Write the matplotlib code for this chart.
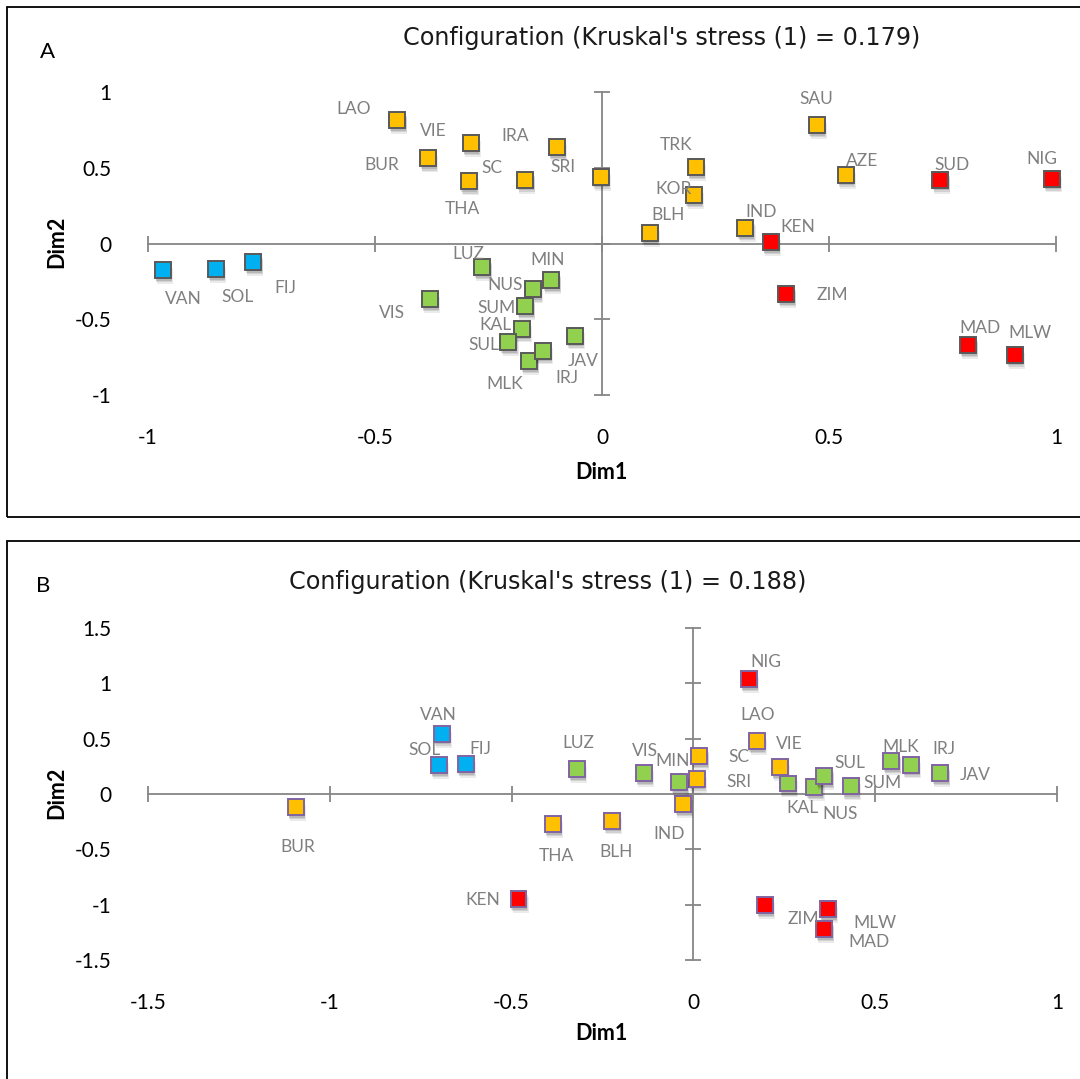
import matplotlib
matplotlib.use('Agg')
import matplotlib.pyplot as plt
import matplotlib.patheffects as pe
from matplotlib.patches import Rectangle

# ---------------- data: panel A ----------------
a_names = ['LAO', 'VIE', 'BUR', 'THA', 'SC', 'IRA', 'SRI', 'TRK', 'KOR', 'BLH', 'IND', 'SAU', 'AZE',
           'KEN', 'SUD', 'NIG', 'ZIM', 'MAD', 'MLW',
           'VAN', 'SOL', 'FIJ',
           'VIS', 'LUZ', 'MIN', 'NUS', 'SUM', 'KAL', 'SUL', 'MLK', 'IRJ', 'JAV']
a_dim1 = [-0.451, -0.289, -0.383, -0.294, -0.169, -0.099, -0.003, 0.207, 0.202, 0.105, 0.316, 0.473, 0.537,
          0.372, 0.745, 0.991, 0.406, 0.807, 0.909,
          -0.967, -0.850, -0.768,
          -0.379, -0.264, -0.112, -0.152, -0.169, -0.177, -0.206, -0.160, -0.130, -0.060]
a_dim2 = [0.814, 0.664, 0.562, 0.410, 0.421, 0.635, 0.441, 0.503, 0.318, 0.068, 0.101, 0.783, 0.454,
          0.009, 0.421, 0.428, -0.333, -0.670, -0.734,
          -0.174, -0.170, -0.121,
          -0.366, -0.154, -0.241, -0.303, -0.411, -0.562, -0.651, -0.774, -0.707, -0.608]
a_group = ['O'] * 13 + ['R'] * 6 + ['B'] * 3 + ['G'] * 10
a_title = "Configuration (Kruskal's stress (1) = 0.179)"
a_xticks = [-1, -0.5, 0, 0.5, 1]
a_xticklabels = ['-1', '-0.5', '0', '0.5', '1']
a_yticks = [-1, -0.5, 0, 0.5, 1]
a_yticklabels = ['-1', '-0.5', '0', '0.5', '1']

# ---------------- data: panel B ----------------
b_names = ['BUR', 'LAO', 'SC', 'SRI', 'VIE', 'IND', 'BLH', 'THA',
           'VAN', 'SOL', 'FIJ',
           'KEN', 'NIG', 'ZIM', 'MLW', 'MAD',
           'MIN', 'VIS', 'LUZ', 'KAL', 'NUS', 'SUL', 'SUM', 'MLK', 'IRJ', 'JAV']
b_dim1 = [-1.093, 0.174, 0.016, 0.009, 0.238, -0.028, -0.224, -0.386,
          -0.692, -0.700, -0.626,
          -0.481, 0.153, 0.197, 0.370, 0.360,
          -0.039, -0.136, -0.320, 0.260, 0.333, 0.360, 0.433, 0.544, 0.598, 0.679]
b_dim2 = [-0.117, 0.480, 0.345, 0.138, 0.246, -0.092, -0.240, -0.271,
          0.545, 0.262, 0.268,
          -0.948, 1.037, -1.003, -1.040, -1.218,
          0.108, 0.188, 0.228, 0.095, 0.062, 0.160, 0.068, 0.298, 0.265, 0.188]
b_group = ['O'] * 8 + ['B'] * 3 + ['R'] * 5 + ['G'] * 10
b_title = "Configuration (Kruskal's stress (1) = 0.188)"
b_xticks = [-1.5, -1, -0.5, 0, 0.5, 1]
b_xticklabels = ['-1.5', '-1', '-0.5', '0', '0.5', '1']
b_yticks = [-1.5, -1, -0.5, 0, 0.5, 1, 1.5]
b_yticklabels = ['-1.5', '-1', '-0.5', '0', '0.5', '1', '1.5']

# ---------------- layout (label offsets in pixels: right, down) ----------------
a_offsets = {
    'LAO': (-44, -11), 'VIE': (-38, -12), 'BUR': (-46, 7), 'THA': (-6, 28), 'SC': (-33, -12),
    'IRA': (-42, -11), 'SRI': (-38, -10), 'TRK': (-20, -22), 'KOR': (-20, -6), 'BLH': (18, -18),
    'IND': (16, -16), 'SAU': (0, -26), 'AZE': (16, -14), 'KEN': (27, -15), 'SUD': (12, -15),
    'NIG': (-10, -20), 'ZIM': (46, 1), 'MAD': (12, -17), 'MLW': (15, -22),
    'VAN': (20, 29), 'SOL': (21, 28), 'FIJ': (32, 26),
    'VIS': (-38, 14), 'LUZ': (-14, -13), 'MIN': (-4, -20), 'NUS': (-28, -4), 'SUM': (-29, 2),
    'KAL': (-26, -4), 'SUL': (-25, 3), 'MLK': (-25, 23), 'IRJ': (24, 27), 'JAV': (8, 25),
}
b_offsets = {
    'BUR': (2, 40), 'VAN': (-3, -19), 'SOL': (-14, -15), 'FIJ': (15, -15), 'KEN': (-36, 1),
    'NIG': (17, -17), 'LAO': (1, -26), 'SC': (40, 1), 'SRI': (42, 3), 'VIE': (9, -23),
    'MIN': (-7, -21), 'VIS': (1, -22), 'LUZ': (1, -26), 'IND': (-14, 30), 'BLH': (4, 31),
    'THA': (3, 32), 'KAL': (15, 25), 'NUS': (26, 27), 'SUL': (26, -13), 'SUM': (32, -3),
    'MLK': (9, -14), 'IRJ': (33, -16), 'JAV': (35, 2), 'ZIM': (38, 14), 'MLW': (47, 14),
    'MAD': (45, 13),
}

colors = {'O': '#FFC000', 'G': '#92D050', 'B': '#00B0F0', 'R': '#FF0000'}
AXIS_C = '#868686'
LABEL_C = '#7F7F7F'
FONT = ['Lato', 'DejaVu Sans']
plt.rcParams['font.family'] = FONT

W, H = 1080, 1079
fig = plt.figure(figsize=(W / 100, H / 100), dpi=100)


def px_axes(x0, y0, x1, y1):
    return fig.add_axes([x0 / W, 1 - y1 / H, (x1 - x0) / W, (y1 - y0) / H])


def draw_panel(ax, names, d1, d2, grp, xt, xtl, yt, ytl, offsets, edge):
    ax.set_xlim(xt[0], xt[-1])
    ax.set_ylim(yt[0], yt[-1])
    for s in ax.spines.values():
        s.set_visible(False)
    ax.plot([xt[0], xt[-1]], [0, 0], color=AXIS_C, lw=1.3, zorder=1, clip_on=False)
    ax.plot([0, 0], [yt[0], yt[-1]], color=AXIS_C, lw=1.3, zorder=1, clip_on=False)
    ax.plot(xt, [0] * len(xt), ls='none', marker='|', ms=11, mew=1.3, color=AXIS_C,
            zorder=1, clip_on=False)
    ax.plot([0] * len(yt), yt, ls='none', marker='_', ms=12, mew=1.3, color=AXIS_C,
            zorder=1, clip_on=False)
    ax.set_xticks(xt)
    ax.set_xticklabels(xtl)
    ax.set_yticks(yt)
    ax.set_yticklabels(ytl)
    ax.tick_params(length=0, labelsize=15, labelcolor='#000000')
    ax.tick_params(axis='x', pad=24)
    ax.tick_params(axis='y', pad=26)
    shadow = [pe.SimplePatchShadow(offset=(0.5, -2.0), shadow_rgbFace='#000000', alpha=0.12),
              pe.SimplePatchShadow(offset=(1.0, -3.0), shadow_rgbFace='#000000', alpha=0.11),
              pe.SimplePatchShadow(offset=(1.5, -4.2), shadow_rgbFace='#000000', alpha=0.08),
              pe.Normal()]
    for n, x, y, g in zip(names, d1, d2, grp):
        ax.plot([x], [y], ls='none', marker='s', ms=11.5, mfc=colors[g], mec=edge, mew=1.4,
                zorder=3, clip_on=False, path_effects=shadow)
        dx, dy = offsets[n]
        ax.annotate(n, (x, y), xytext=(dx, -dy), textcoords='offset pixels', ha='center',
                    va='center', fontsize=12.5, color=LABEL_C, zorder=4)


axA = px_axes(148, 92, 1056, 395)
draw_panel(axA, a_names, a_dim1, a_dim2, a_group, a_xticks, a_xticklabels, a_yticks,
           a_yticklabels, a_offsets, '#595959')
axB = px_axes(148, 628, 1057, 960)
draw_panel(axB, b_names, b_dim1, b_dim2, b_group, b_xticks, b_xticklabels, b_yticks,
           b_yticklabels, b_offsets, '#8064A2')

# titles, panel letters, axis titles
TFONT = ['DejaVu Sans']
fig.text(662 / W, 1 - 38 / H, a_title, ha='center', va='center', fontsize=17.2,
         color='#1a1a1a', family=TFONT)
fig.text(548 / W, 1 - 582 / H, b_title, ha='center', va='center', fontsize=17.2,
         color='#1a1a1a', family=TFONT)
fig.text(47 / W, 1 - 52 / H, 'A', ha='center', va='center', fontsize=16)
fig.text(43 / W, 1 - 586 / H, 'B', ha='center', va='center', fontsize=16)
for (x, y) in [(601, 472), (601, 1034)]:
    fig.text(x / W, 1 - y / H, 'Dim1', ha='center', va='center', fontsize=15.5, weight='bold')
for (x, y) in [(57, 242), (57, 793)]:
    fig.text(x / W, 1 - y / H, 'Dim2', ha='center', va='center', fontsize=15.5, weight='bold',
             rotation=90)

# panel borders
fig.add_artist(Rectangle((7 / W, 1 - 517 / H), 1.1, (517 - 7) / H, transform=fig.transFigure,
                         fill=False, ec='#000000', lw=1.3))
fig.add_artist(Rectangle((7 / W, -0.1), 1.1, 0.1 + (H - 541) / H, transform=fig.transFigure,
                         fill=False, ec='#000000', lw=1.3))

fig.savefig('out.png', dpi=100)
